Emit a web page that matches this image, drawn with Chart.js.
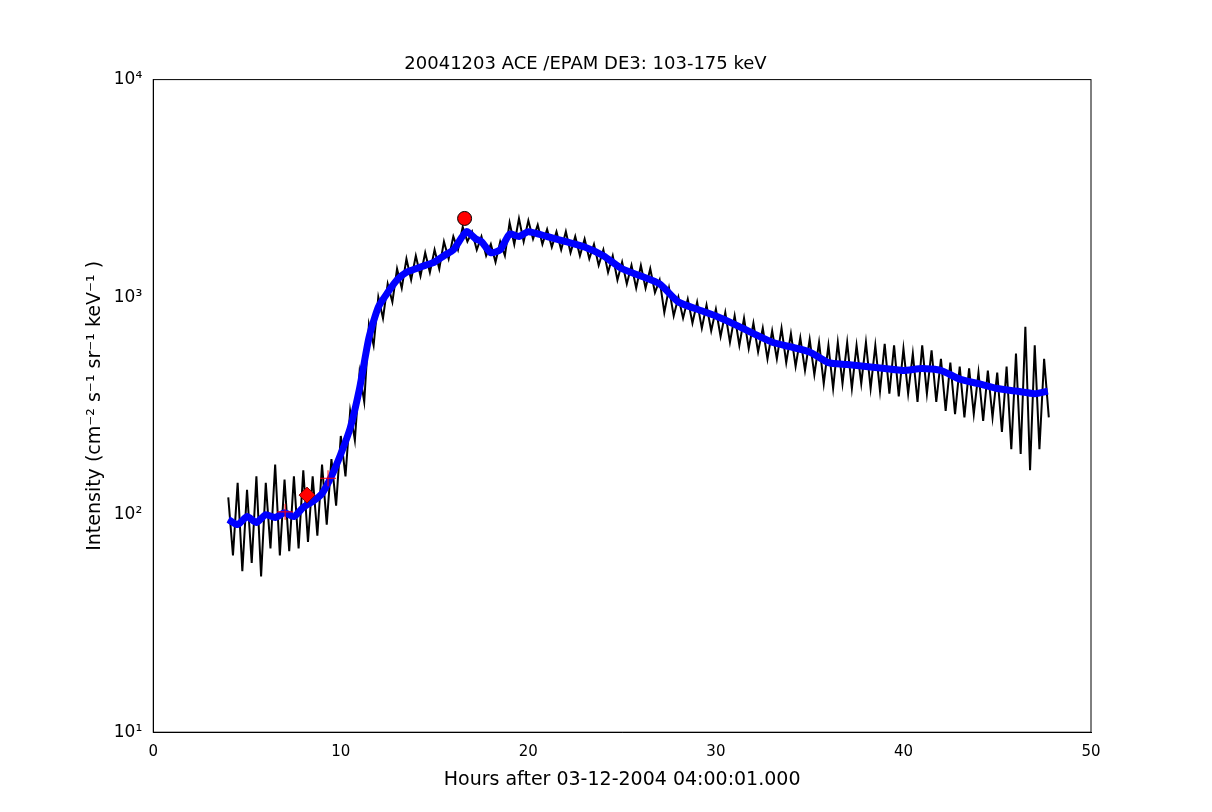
<!DOCTYPE html>
<html><head><meta charset="utf-8">
<script src="https://cdn.jsdelivr.net/npm/chart.js@4"></script>
<style>body{margin:0;background:#fff}#w{width:1212px;height:812px}</style>
</head><body><div id="w"><canvas id="c"></canvas></div>
<script>
const rawTimes = [];
for (let i = 0; i < 176; i++) rawTimes.push(4 + i * 0.25);
const rawValues = [120,65,140,55,130,60,150,52,140,70,170,65,145,68,150,70,160,75,150,80,170,90,180,110,230,150,300,220,450,330,750,600,1000,800,1150,950,1350,1100,1500,1200,1550,1250,1600,1300,1650,1350,1800,1500,1900,1650,2100,1800,2000,1650,1900,1550,1750,1450,1800,1550,2200,1750,2300,1800,2250,1850,2150,1750,2050,1700,2000,1650,2000,1600,1900,1550,1850,1500,1750,1400,1650,1300,1550,1200,1450,1150,1400,1100,1400,1100,1350,1050,1200,850,1100,820,1000,800,980,760,950,720,920,700,880,660,850,620,820,600,800,580,760,560,720,520,700,520,720,500,680,480,650,460,640,440,620,400,600,380,620,400,620,380,600,400,620,380,600,370,610,360,600,350,580,360,550,330,600,360,570,330,520,300,500,290,480,280,470,290,450,270,460,280,450,240,480,200,550,190,730,160,600,200,520,280];
const avgTimes = [4,4.5,5,5.5,6,6.5,7,7.5,8,8.5,9,9.5,10,10.5,11,11.5,12,12.5,13,13.5,14,14.5,15,15.5,16,16.7,17.2,17.5,18,18.5,19,19.5,20,21,22,23,24,25,26,27,28,29,30,31,32,33,34,35,36,37,38,39,40,41,42,43,44,45,46,47,47.7];
const avgValues = [95,90,98,92,100,97,102,98,108,115,125,150,190,250,380,650,900,1050,1200,1300,1350,1400,1450,1550,1650,2000,1850,1800,1600,1650,1950,1900,2000,1900,1800,1700,1550,1350,1250,1150,950,880,820,750,680,620,590,560,500,490,480,470,460,470,460,420,400,380,370,360,370];
const plusPts = [[7.03,103],[9.32,147]];
const diamondPts = [[8.2,123]];
const circlePts = [[16.6,2300]];
const xy = (t, v) => t.map((x, i) => ({x, y: v[i]}));
const pts = a => a.map(p => ({x: p[0], y: p[1]}));
const decadeTicks = [10, 100, 1000, 10000];
const sup = {10: '10¹', 100: '10²', 1000: '10³', 10000: '10⁴'};
new Chart(document.getElementById('c'), {
  type: 'line',
  data: { datasets: [
    {data: xy(rawTimes, rawValues), borderColor: '#000', borderWidth: 2, pointRadius: 0, tension: 0, order: 5},
    {data: xy(avgTimes, avgValues), borderColor: '#0000ff', borderWidth: 7, pointRadius: 0, tension: 0.2, order: 4},
    {type: 'scatter', data: pts(plusPts), pointStyle: 'cross', pointRadius: 8, borderColor: 'red', borderWidth: 1, order: 1},
    {type: 'scatter', data: pts(diamondPts), pointStyle: 'rectRot', pointRadius: 8, backgroundColor: 'red', borderColor: '#800', borderWidth: 1, order: 1},
    {type: 'scatter', data: pts(circlePts), pointStyle: 'circle', pointRadius: 7, backgroundColor: 'red', borderColor: '#000', borderWidth: 1, order: 1}
  ]},
  options: {
    responsive: true, maintainAspectRatio: false, animation: false,
    layout: {padding: {left: 80, right: 121, top: 54, bottom: 17}},
    plugins: {legend: {display: false}, tooltip: {enabled: false},
      title: {display: true, text: '20041203 ACE /EPAM DE3: 103-175 keV', color: '#000', font: {family: 'DejaVu Sans', size: 18, weight: 'normal'}, padding: {bottom: 4}}},
    scales: {
      x: {type: 'linear', min: 0, max: 50,
        ticks: {stepSize: 10, color: '#000', font: {family: 'DejaVu Sans', size: 15}},
        grid: {display: false, drawTicks: true}, border: {color: '#000'},
        title: {display: true, text: 'Hours after 03-12-2004 04:00:01.000', color: '#000', font: {family: 'DejaVu Sans', size: 19}}},
      y: {type: 'logarithmic', min: 10, max: 10000,
        afterBuildTicks: s => { s.ticks = decadeTicks.map(v => ({value: v})); },
        ticks: {color: '#000', font: {family: 'DejaVu Sans', size: 17}, callback: v => sup[v] || ''},
        grid: {display: false}, border: {color: '#000'},
        title: {display: true, text: 'Intensity (cm⁻² s⁻¹ sr⁻¹ keV⁻¹ )', color: '#000', font: {family: 'DejaVu Sans', size: 19}}}
    }
  },
  plugins: [{id: 'box', afterDraw(ch) {
    const a = ch.chartArea, c = ch.ctx;
    c.save(); c.strokeStyle = '#000'; c.lineWidth = 1;
    c.strokeRect(a.left, a.top, a.right - a.left, a.bottom - a.top);
    c.restore();
  }}]
});
</script></body></html>
